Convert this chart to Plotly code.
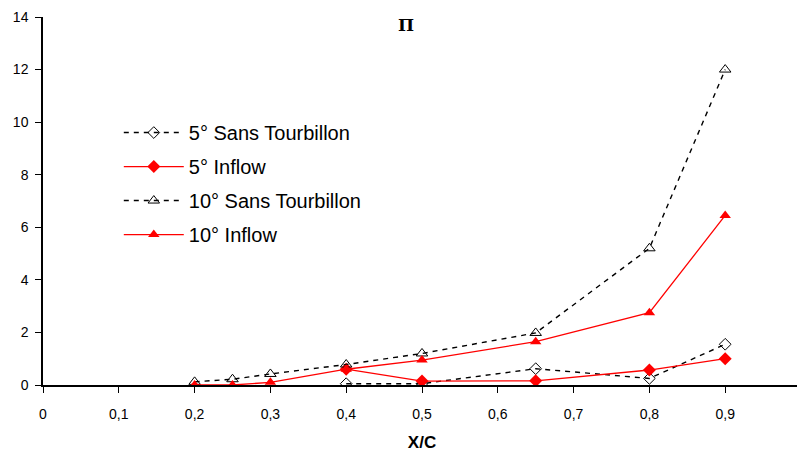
import plotly.graph_objects as go

x_5st = [0.4, 0.5, 0.65, 0.8, 0.9]
y_5st = [0.05, 0.05, 0.62, 0.25, 1.55]
x_5in = [0.4, 0.5, 0.65, 0.8, 0.9]
y_5in = [0.6, 0.15, 0.16, 0.57, 1.0]
x_10st = [0.2, 0.25, 0.3, 0.4, 0.5, 0.65, 0.8, 0.9]
y_10st = [0.12, 0.22, 0.42, 0.78, 1.2, 1.98, 5.2, 12.0]
x_10in = [0.2, 0.25, 0.3, 0.4, 0.5, 0.65, 0.8, 0.9]
y_10in = [0.0, 0.0, 0.1, 0.6, 0.95, 1.65, 2.75, 6.45]

names = ["5° Sans Tourbillon", "5° Inflow", "10° Sans Tourbillon", "10° Inflow"]
xtick_vals = [0, 0.1, 0.2, 0.3, 0.4, 0.5, 0.6, 0.7, 0.8, 0.9, 1]
xtick_text = ["0", "0,1", "0,2", "0,3", "0,4", "0,5", "0,6", "0,7", "0,8", "0,9", "1"]

fig = go.Figure()
fig.add_trace(go.Scatter(x=x_5st, y=y_5st, name=names[0], mode="lines+markers", legendgroup="a",
                         line=dict(color="black", width=1.4, dash="5px,5px"),
                         marker=dict(symbol="diamond-open", size=9, color="black", line=dict(width=1))))
fig.add_trace(go.Scatter(x=x_5in, y=y_5in, name=names[1], mode="lines+markers", legendgroup="b",
                         line=dict(color="red", width=1.3),
                         marker=dict(symbol="diamond", size=10, color="red")))
fig.add_trace(go.Scatter(x=x_10st, y=y_10st, name=names[2], mode="lines+markers", legendgroup="c",
                         line=dict(color="black", width=1.4, dash="5px,5px"),
                         marker=dict(symbol="triangle-up-open", size=10, color="black", line=dict(width=1))))
fig.add_trace(go.Scatter(x=x_10in, y=y_10in, name=names[3], mode="lines+markers", legendgroup="d",
                         line=dict(color="red", width=1.3),
                         marker=dict(symbol="triangle-up", size=10, color="red")))

fig.update_layout(
    width=797, height=444,
    margin=dict(l=35, r=4, t=9, b=67),
    paper_bgcolor="white", plot_bgcolor="white",
    font=dict(family="Liberation Sans, Arial", size=14, color="black"),
    showlegend=True,
    legend=dict(x=0.1, y=0.739, xanchor="left", yanchor="top", bgcolor="rgba(0,0,0,0)",
                font=dict(size=20), tracegroupgap=5, itemwidth=60),
    xaxis=dict(range=[0, 1], tickvals=xtick_vals, ticktext=xtick_text, showgrid=False, zeroline=False,
               showline=True, linecolor="black", linewidth=1.5, ticks="outside", ticklen=6,
               tickcolor="black", tickfont=dict(size=14), automargin=False, ticklabelstandoff=9,
               title=dict(text="<b>X/C</b>", font=dict(size=17), standoff=30)),
    yaxis=dict(range=[0, 14], dtick=2, showgrid=False, zeroline=False, automargin=False,
               showline=True, linecolor="black", linewidth=1.5, ticks="outside", ticklen=6,
               tickcolor="black", tickfont=dict(size=14), ticklabelstandoff=4),
    annotations=[dict(text="<b>Π</b>", x=0.479, y=1.012, xref="paper", yref="paper", xanchor="center",
                      yanchor="top", showarrow=False,
                      font=dict(family="DejaVu Serif, Liberation Serif", size=17))],
)

fig.write_html("out.html")
